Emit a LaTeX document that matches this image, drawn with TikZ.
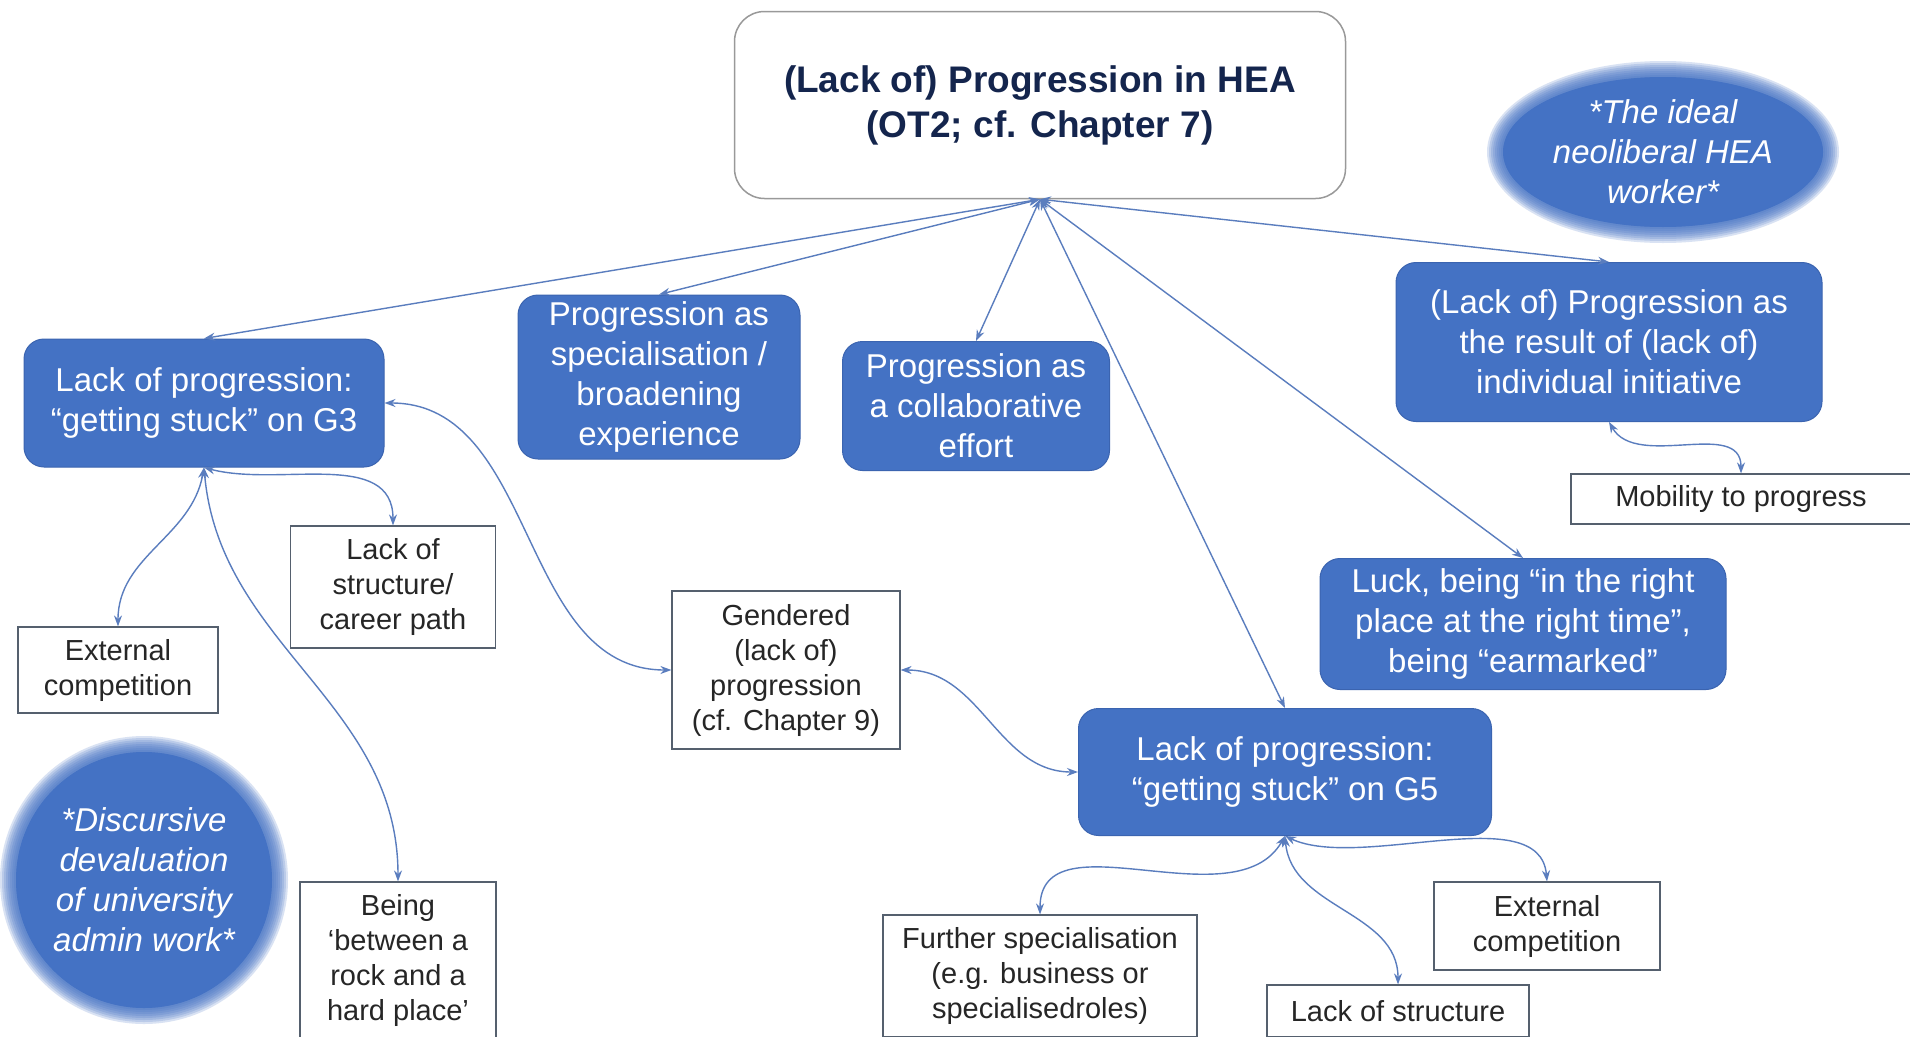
\documentclass[tikz,border=0pt]{standalone}
\usepackage{fontspec}
\setmainfont{Liberation Sans}
\usepackage{tikz}
\usetikzlibrary{shapes.geometric,arrows.meta}
\definecolor{hblue}{HTML}{4472C4}
\definecolor{hedge}{HTML}{3B64B0}
\definecolor{hline}{HTML}{5A7DBE}
\definecolor{hnavy}{HTML}{14254D}
\definecolor{hgrey}{HTML}{55606E}
\tikzstyle{mainbox}=[rectangle,rounded corners=30pt,minimum width=611pt,
minimum height=187pt,align=center,draw=gray!80,line width=1.5pt,fill=white,text=hnavy,
font=\fontsize{37}{45}\selectfont\bfseries]
\tikzstyle{theme}=[rectangle,rounded corners=20pt,align=center,draw=hedge,line width=1pt,
fill=hblue,text=white,font=\fontsize{33}{40}\selectfont]
\tikzstyle{subtheme}=[rectangle,align=center,draw=hgrey,line width=1.2pt,
fill=white,text=black!85,font=\fontsize{29}{35}\selectfont]
\tikzstyle{blob}=[align=center,text=white,font=\fontsize{33}{40}\selectfont\itshape]
\tikzstyle{arrow}=[hline,line width=1.4pt,<->,>={Stealth[length=11pt,width=8pt]}]

\begin{document}
\begin{tikzpicture}[x=1pt,y=-1pt]
    \path[use as bounding box,fill=white] (0,0) rectangle (1910,1036);

    % soft blue blobs
    \fill[hblue] (1663,152) ellipse [x radius=160pt, y radius=75pt];
    \foreach \k in {0,...,8}
        \fill[hblue,opacity=0.2] (1663,152) ellipse [x radius={160pt+2pt*\k}, y radius={75pt+2pt*\k}];
    \fill[hblue] (144,880) circle [radius=128pt];
    \foreach \k in {0,...,8}
        \fill[hblue,opacity=0.2] (144,880) circle [radius={128pt+2pt*\k}];

        \node (top) [mainbox] at (1040,105) {(Lack of) Progression in HEA\\(OT2; cf. Chapter 7)};
        \node (ideal) [blob] at (1663,152) {*The ideal\\neoliberal HEA\\worker*};
        \node (devalue) [blob] at (144,880) {*Discursive\\devaluation\\of university\\admin work*};

        \node (g3) [theme,minimum width=360pt,minimum height=128pt] at (204,403) {Lack of progression:\\“getting stuck” on G3};
        \node (spec) [theme,minimum width=282pt,minimum height=164pt] at (659,377) {Progression as\\specialisation /\\broadening\\experience};
        \node (collab) [theme,minimum width=267pt,minimum height=129pt] at (976,406) {Progression as\\a collaborative\\effort};
        \node (initiative) [theme,minimum width=426pt,minimum height=159pt] at (1609,342) {(Lack of) Progression as\\the result of (lack of)\\individual initiative};
        \node (luck) [theme,minimum width=406pt,minimum height=131pt] at (1523,624) {Luck, being “in the right\\place at the right time”,\\being “earmarked”};
        \node (g5) [theme,minimum width=413pt,minimum height=127pt] at (1285,772) {Lack of progression:\\“getting stuck” on G5};

        \node (ext1) [subtheme,minimum width=200pt,minimum height=86pt] at (118,670) {External\\competition};
        \node (struct1) [subtheme,minimum width=205pt,minimum height=122pt] at (393,587) {Lack of\\structure/\\career path};
        \node (being) [subtheme,minimum width=196pt,minimum height=156pt] at (398,960) {Being\\‘between a\\rock and a\\hard place’};
        \node (gendered) [subtheme,minimum width=228pt,minimum height=158pt] at (786,670) {Gendered\\(lack of)\\progression\\(cf. Chapter 9)};
        \node (further) [subtheme,minimum width=314pt,minimum height=122pt] at (1040,976) {Further specialisation\\(e.g. business or\\specialisedroles)};
        \node (struct2) [subtheme,minimum width=262pt,minimum height=52pt] at (1398,1011) {Lack of structure};
        \node (ext2) [subtheme,minimum width=226pt,minimum height=88pt] at (1547,926) {External\\competition};
        \node (mobility) [subtheme,minimum width=340pt,minimum height=50pt] at (1741,499) {Mobility to progress};

        \draw [arrow] (top.south) -- (g3.north);
        \draw [arrow] (top.south) -- (spec.north);
        \draw [arrow] (top.south) -- (collab.north);
        \draw [arrow] (top.south) -- (g5.north);
        \draw [arrow] (top.south) -- (luck.north);
        \draw [arrow] (top.south) -- (initiative.north);

        \draw [arrow] (g3.south) to[out=-100,in=90] (ext1.north);
        \draw [arrow] (g3.south) to[out=-15,in=90] (struct1.north);
        \draw [arrow] (g3.south) to[out=-85,in=90] (being.north);
        \draw [arrow] (g3.east) to[out=0,in=180] (gendered.west);
        \draw [arrow] (gendered.east) to[out=0,in=180] (g5.west);
        \draw [arrow] (g5.south) to[out=-120,in=90] (further.north);
        \draw [arrow] (g5.south) to[out=-85,in=90] (struct2.north);
        \draw [arrow] (g5.south) to[out=-25,in=95,looseness=0.8] (ext2.north);
        \draw [arrow] (initiative.south) to[out=-60,in=90] (mobility.north);
    \end{tikzpicture}
\end{document}
